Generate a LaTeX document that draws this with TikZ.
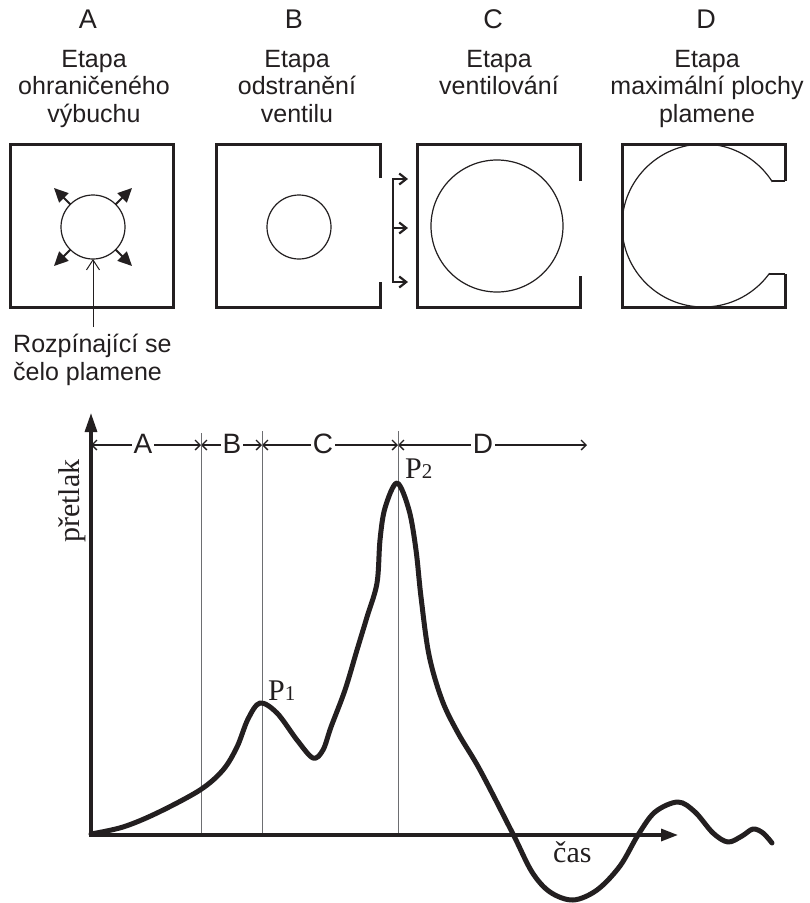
\documentclass[tikz,border=0pt]{standalone}
\usepackage{fontspec}
\setmainfont{Liberation Serif}
\setsansfont{Liberation Sans}
\usetikzlibrary{arrows.meta}
\definecolor{ink}{HTML}{231F20}
\definecolor{guidegray}{HTML}{6D6E71}
\begin{document}
\begin{tikzpicture}[x=1pt,y=-1pt,
  sanslab/.style={font=\sffamily\fontsize{25}{27.5}\selectfont, inner sep=0pt, align=center, text=ink},
  letterlab/.style={font=\sffamily\fontsize{27}{27}\selectfont, inner sep=0pt, text=ink},
  seriflab/.style={font=\fontsize{30}{30}\selectfont, inner sep=0pt, text=ink},
  boxline/.style={draw=ink, line width=3pt, line join=miter},
  thinline/.style={draw=ink, line width=1.2pt},
  burst/.style={draw=ink, line width=2pt, -{Triangle[length=14pt,width=13pt]}},
  pointer/.style={draw=ink, line width=1pt, -{Straight Barb[length=10pt,width=13pt]}},
  vent/.style={draw=ink, line width=2.2pt, line join=miter},
  ventboth/.style={{Straight Barb[length=7pt,width=11pt]}-{Straight Barb[length=7pt,width=11pt]}},
  ventone/.style={-{Straight Barb[length=7pt,width=11pt]}},
  phase/.style={draw=ink, line width=1.3pt, {Straight Barb[length=5pt,width=10pt]}-{Straight Barb[length=5pt,width=10pt]}},
  phaselab/.style={font=\sffamily\fontsize{28}{28}\selectfont, fill=white, inner xsep=1.5pt, inner ysep=0pt, text=ink},
  guide/.style={draw=guidegray, line width=1pt},
  axis/.style={draw=ink, line width=3.2pt},
  curve/.style={draw=ink, line width=5pt, line cap=round, line join=round}]
\fill[white] (0,0) rectangle (810,903);
\useasboundingbox (0,0) rectangle (810,903);

% stage headers
\node[letterlab, anchor=base] (lA) at (88,28) {A};
\node[letterlab, anchor=base] (lB) at (294,28) {B};
\node[letterlab, anchor=base] (lC) at (493,28) {C};
\node[letterlab, anchor=base] (lD) at (706,28) {D};
\node[sanslab, anchor=north] (tA) at (94,50) {Etapa\\ohraničeného\\výbuchu};
\node[sanslab, anchor=north] (tB) at (297,50) {Etapa\\odstranění\\ventilu};
\node[sanslab, anchor=north] (tC) at (499,50) {Etapa\\ventilování};
\node[sanslab, anchor=north] (tD) at (707,50) {Etapa\\maximální plochy\\plamene};

% box A
\draw[boxline] (10,144) rectangle (173,307);
\draw[thinline] (93,227) circle[radius=32];
\draw[burst] (70.4,204.4) -- (54,188);
\draw[burst] (115.6,204.4) -- (132,188);
\draw[burst] (70.4,249.6) -- (54,266);
\draw[burst] (115.6,249.6) -- (132,266);
\coordinate (ptrbot) at (93,327);
\coordinate (ptrtop) at (93,259);
\draw[pointer] (ptrbot) -- (ptrtop);
\node[sanslab, anchor=north west, align=left] (lbl) at (13,334) {Rozpínající se\\čelo plamene};

% box B
\draw[boxline] (380,178) -- (380,144) -- (216,144) -- (216,307) -- (380,307) -- (380,282);
\draw[thinline] (299,227) circle[radius=32];
\draw[vent, ventboth] (408,179) -- (393,179) -- (393,282) -- (408,282);
\draw[vent, ventone] (393,228) -- (408,228);

% box C
\draw[boxline] (580,181) -- (580,144) -- (417,144) -- (417,307) -- (580,307) -- (580,276);
\draw[thinline] (497,226) circle[radius=66];

% box D
\draw[boxline] (785,181) -- (785,144) -- (622,144) -- (622,307) -- (785,307) -- (785,274);
\begin{scope}
  \clip (600,120) -- (800,120) -- (800,181) -- (771.8,181) -- (769,274) -- (800,274) -- (800,330) -- (600,330) -- cycle;
  \draw[thinline] (703.5,225.5) circle[radius=81.5];
\end{scope}
\draw[thinline] (785,181) -- (771.5,181);
\draw[thinline] (785,274) -- (769,274);

% phase line
\coordinate (p0) at (91,445);
\coordinate (p1) at (201,445);
\coordinate (p2) at (262,445);
\coordinate (p3) at (398,445);
\coordinate (p4) at (587,445);
\draw[phase] (p0) -- (p1);
\draw[phase] (p1) -- (p2);
\draw[phase] (p2) -- (p3);
\draw[phase] (p3) -- (p4);
\node[phaselab] (phA) at (143,444) {A};
\node[phaselab] (phB) at (232,444) {B};
\node[phaselab] (phC) at (323,444) {C};
\node[phaselab] (phD) at (483,444) {D};

% guide lines
\draw[guide] (201,433) -- (201,835);
\draw[guide] (262,431) -- (262,835);
\draw[guide] (398,431) -- (398,835);

% axes
\coordinate (orig) at (91,835);
\coordinate (ytip) at (91,413);
\coordinate (xtip) at (678,835);
\draw[axis, -{Triangle[length=19pt,width=12pt]}] (91,836.6) -- (ytip);
\draw[axis, -{Triangle[length=17pt,width=12pt]}] (89.4,835) -- (xtip);

% curve
\draw[curve] plot[smooth, tension=0.55] coordinates {
 (91,834) (123,827) (157,813) (200,790) (223,770) (237,747) (248,719) (260,703) (277,713) (297,740) (313,758)
 (323,750) (331,727) (345,690) (357,650) (367,617) (377,583) (380,540) (385,508) (397,483)
 (409,510) (416,550) (421,597) (429,655) (442,700) (458,733) (480,770) (513,834)
 (532,872) (550,892) (573,900) (597,890) (620,866) (638,835) (655,812) (678,802)
 (695,812) (713,833) (728,842) (742,836) (753,829) (763,833) (772,843)};

% labels
\node[seriflab, anchor=base west] (P1) at (268,700) {P{\fontsize{21}{21}\selectfont 1}};
\node[seriflab, anchor=base west] (P2) at (405,478) {P{\fontsize{21}{21}\selectfont 2}};
\node[seriflab, anchor=base west, rotate=90] (ylab) at (79,543) {přetlak};
\node[seriflab, anchor=base west] (xlab) at (553,862) {čas};
\end{tikzpicture}
\end{document}
